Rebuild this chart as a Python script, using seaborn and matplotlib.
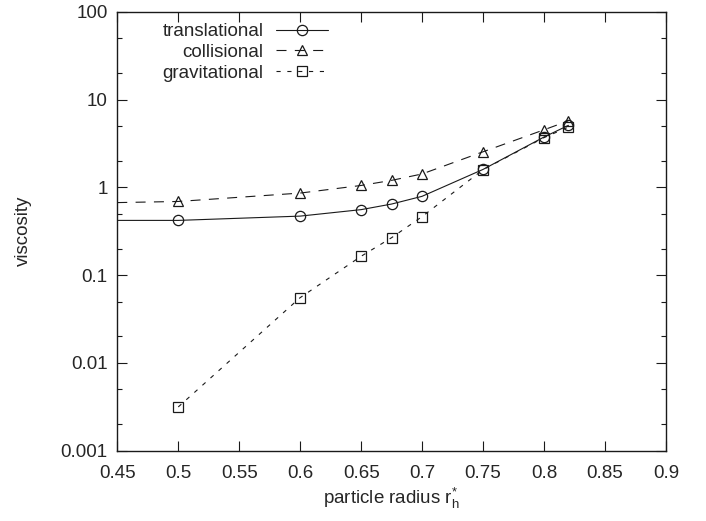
import numpy as np
import pandas as pd
import matplotlib
matplotlib.use("Agg")
import matplotlib.pyplot as plt
import matplotlib.ticker as mticker
import seaborn as sns

# ---- data ----
radius = [0.5, 0.6, 0.65, 0.675, 0.7, 0.75, 0.8, 0.82]
translational = [0.42, 0.47, 0.557, 0.645, 0.79, 1.60, 3.74, 5.08]
collisional = [0.69, 0.86, 1.05, 1.20, 1.42, 2.54, 4.52, 5.72]
gravitational = [0.00315, 0.0554, 0.164, 0.267, 0.464, 1.59, 3.68, 4.86]
# curves for translational / collisional continue to the left edge
curve_start_x = 0.45
translational_start = 0.42
collisional_start = 0.67

series_names = ["translational", "collisional", "gravitational"]
x_ticks = [0.45, 0.5, 0.55, 0.6, 0.65, 0.7, 0.75, 0.8, 0.85, 0.9]
x_tick_labels = ["0.45", "0.5", "0.55", "0.6", "0.65", "0.7", "0.75", "0.8", "0.85", "0.9"]
y_ticks = [0.001, 0.01, 0.1, 1, 10, 100]
y_tick_labels = ["0.001", "0.01", "0.1", "1", "10", "100"]

sns.set_style("ticks")
plt.rcParams["font.family"] = ["Liberation Sans", "DejaVu Sans"]
plt.rcParams["mathtext.fontset"] = "custom"
plt.rcParams["mathtext.rm"] = "Liberation Sans"
plt.rcParams["mathtext.it"] = "Liberation Sans"
plt.rcParams["lines.scale_dashes"] = False

fig = plt.figure(figsize=(7.06, 5.21), dpi=100)
ax = fig.add_axes([0.1661, 0.1349, 0.9433 - 0.1661, 0.9775 - 0.1349])

ink = "#1a1a1a"
common = dict(color=ink, linewidth=0.8, markerfacecolor="none",
              markeredgecolor=ink, markeredgewidth=0.9,
              estimator=None, sort=False, errorbar=None, ax=ax)

sns.lineplot(x=[curve_start_x] + radius, y=[translational_start] + translational,
             marker="o", markersize=7.4, markevery=slice(1, None),
             linestyle="-", label=series_names[0], **common)
sns.lineplot(x=[curve_start_x] + radius, y=[collisional_start] + collisional,
             marker="^", markersize=6.8, markevery=slice(1, None),
             linestyle=(0, (7.2, 6.0)), label=series_names[1], **common)
sns.lineplot(x=radius, y=gravitational,
             marker="s", markersize=6.6,
             linestyle=(0, (3.0, 4.8)), label=series_names[2], **common)

ax.set_yscale("log")
ax.set_xlim(0.45, 0.9)
ax.set_ylim(0.001, 100)
ax.set_xticks(x_ticks)
ax.set_xticklabels(x_tick_labels)
ax.set_yticks(y_ticks)
ax.set_yticklabels(y_tick_labels)
ax.yaxis.set_minor_locator(mticker.LogLocator(base=10, subs=(2.0, 5.0)))
ax.yaxis.set_minor_formatter(mticker.NullFormatter())
ax.xaxis.set_minor_locator(mticker.NullLocator())

ax.tick_params(axis="both", which="major", direction="in", length=7.2, width=0.8,
               color=ink, labelsize=13.5, top=True, right=True)
ax.tick_params(axis="y", which="major", pad=7)
ax.tick_params(axis="x", which="major", pad=10.5)
ax.tick_params(axis="both", which="minor", direction="in", length=3.6, width=0.8,
               color=ink, top=True, right=True)
for sp in ax.spines.values():
    sp.set_visible(True)
    sp.set_color(ink)
    sp.set_linewidth(1.0)

ax.set_xlabel(r"particle radius r$_\mathregular{h}^{\mathregular{*}}$", fontsize=13.5, labelpad=2.5)
ax.set_ylabel("viscosity", fontsize=13.5)
ax.yaxis.set_label_coords(-0.155, 0.5)

leg = ax.legend(loc="upper right", bbox_to_anchor=(0.3845, 0.974), frameon=False,
                markerfirst=False, fontsize=13.5, handlelength=2.76, handletextpad=0.68,
                labelspacing=0.19, borderpad=0.0, borderaxespad=0.0, numpoints=1)

fig.savefig("out.png", dpi=100)
